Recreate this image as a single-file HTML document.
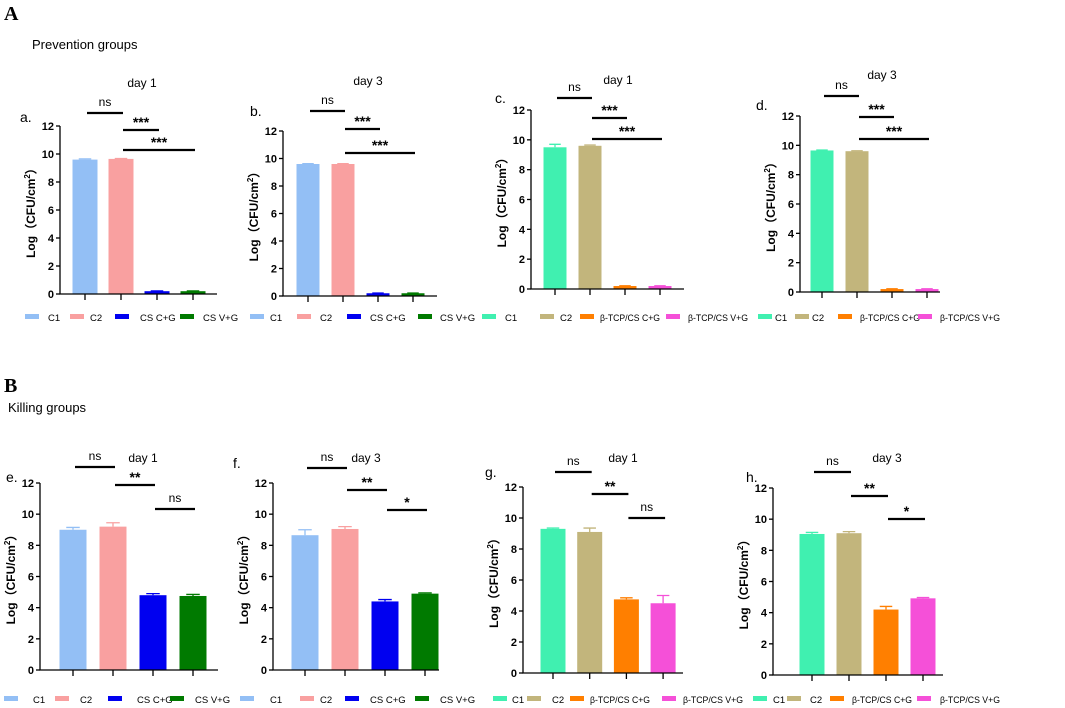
<!DOCTYPE html>
<html><head><meta charset="utf-8">
<style>
html,body{margin:0;padding:0;background:#fff;}
svg{display:block;font-family:"Liberation Sans",Arial,sans-serif;}
</style></head>
<body>
<svg id="fig" width="1065" height="708" viewBox="0 0 1065 708" xmlns="http://www.w3.org/2000/svg">
<text x="4" y="20" font-family="Liberation Serif,serif" font-weight="bold" font-size="20">A</text>
<text x="32" y="49" font-size="13">Prevention groups</text>
<text x="4" y="392" font-family="Liberation Serif,serif" font-weight="bold" font-size="20">B</text>
<text x="8" y="412" font-size="13">Killing groups</text>
</svg>
<script>
// ---- data ----
const categoriesCS = ["C1","C2","CS C+G","CS V+G"];
const categoriesTCP = ["C1","C2","β-TCP/CS C+G","β-TCP/CS V+G"];
const yTicks = [0,2,4,6,8,10,12];
const valuesA = [9.6,9.65,0.2,0.2];   const errorsA = [0.05,0.03,0.02,0.02];
const valuesB = [9.6,9.6,0.2,0.2];    const errorsB = [0.03,0.03,0.02,0.02];
const valuesC = [9.5,9.6,0.2,0.2];    const errorsC = [0.2,0.05,0.02,0.02];
const valuesD = [9.65,9.6,0.2,0.2];   const errorsD = [0.03,0.03,0.02,0.02];
const valuesE = [9.0,9.2,4.8,4.75];   const errorsE = [0.15,0.25,0.1,0.1];
const valuesF = [8.65,9.05,4.4,4.9];  const errorsF = [0.35,0.15,0.12,0.05];
const valuesG = [9.3,9.1,4.75,4.5];   const errorsG = [0.05,0.25,0.1,0.5];
const valuesH = [9.05,9.1,4.2,4.92];  const errorsH = [0.1,0.1,0.2,0.05];
const sigA = ["ns","***","***"], sigB = ["ns","***","***"], sigC = ["ns","***","***"], sigD = ["ns","***","***"];
const sigE = ["ns","**","ns"], sigF = ["ns","**","*"], sigG = ["ns","**","ns"], sigH = ["ns","**","*"];

const colorsCS = ["#93bff5","#f9a0a0","#0000f0","#007a00"];
const colorsTCP = ["#40f0b0","#c2b57c","#ff7f00","#f550d8"];

// ---- layout (geometry, not data) ----
const panels = [
 {id:"a",title:"day 1",tx:142,ty:87,lx:20,ly:122,ax:60,y12:126,y0:294,xe:217,t0:85,dt:36,bw:25,cats:categoriesCS,vals:valuesA,errs:errorsA,cols:colorsCS,sig:sigA,
  br:[[0,1,113],[1,2,130],[1,3,150]]},
 {id:"b",title:"day 3",tx:368,ty:85,lx:250,ly:116,ax:283,y12:131,y0:296,xe:437,t0:308,dt:35,bw:23,cats:categoriesCS,vals:valuesB,errs:errorsB,cols:colorsCS,sig:sigB,
  br:[[0,1,111],[1,2,129],[1,3,153]]},
 {id:"c",title:"day 1",tx:618,ty:84,lx:495,ly:103,ax:531,y12:110,y0:289,xe:684,t0:555,dt:35,bw:23,cats:categoriesTCP,vals:valuesC,errs:errorsC,cols:colorsTCP,sig:sigC,
  br:[[0,1,98],[1,2,118],[1,3,139]]},
 {id:"d",title:"day 3",tx:882,ty:79,lx:756,ly:110,ax:800,y12:116,y0:292,xe:940,t0:822,dt:35,bw:23,cats:categoriesTCP,vals:valuesD,errs:errorsD,cols:colorsTCP,sig:sigD,
  br:[[0,1,96],[1,2,117],[1,3,139]]},
 {id:"e",title:"day 1",tx:143,ty:462,lx:6,ly:482,ax:40,y12:483,y0:670,xe:218,t0:73,dt:40,bw:27,cats:categoriesCS,vals:valuesE,errs:errorsE,cols:colorsCS,sig:sigE,
  br:[[0,1,467],[1,2,485],[2,3,509]]},
 {id:"f",title:"day 3",tx:366,ty:462,lx:233,ly:468,ax:273,y12:483,y0:670,xe:439,t0:305,dt:40,bw:27,cats:categoriesCS,vals:valuesF,errs:errorsF,cols:colorsCS,sig:sigF,
  br:[[0,1,468],[1,2,490],[2,3,510]]},
 {id:"g",title:"day 1",tx:623,ty:462,lx:485,ly:477,ax:523,y12:487,y0:673,xe:683,t0:553,dt:36.7,bw:25,cats:categoriesTCP,vals:valuesG,errs:errorsG,cols:colorsTCP,sig:sigG,
  br:[[0,1,472],[1,2,494],[2,3,518]]},
 {id:"h",title:"day 3",tx:887,ty:462,lx:746,ly:482,ax:773,y12:488,y0:675,xe:943,t0:812,dt:37,bw:25,cats:categoriesTCP,vals:valuesH,errs:errorsH,cols:colorsTCP,sig:sigH,
  br:[[0,1,472],[1,2,496],[2,3,519]]}
];
const legendStarts = {
 A:{y:318,items:[[25,48],[70,90],[115,140],[180,203],[250,270],[297,320],[347,370],[418,440],[482,505],[540,560],[580,600],[666,688],[758,775],[795,812],[838,860],[918,940]]},
 B:{y:700,items:[[4,33],[55,80],[108,137],[170,195],[240,270],[300,320],[345,370],[415,440],[493,512],[527,552],[570,590],[662,683],[753,773],[787,810],[830,852],[917,940]]}
};

const NS="http://www.w3.org/2000/svg";
const svg=document.getElementById("fig");
function mk(tag,attrs,parent){const e=document.createElementNS(NS,tag);for(const k in attrs)e.setAttribute(k,attrs[k]);(parent||svg).appendChild(e);return e;}

panels.forEach(p=>{
  const g=mk("g",{});
  
  
  const ys=v=>p.y0-(v/12)*(p.y0-p.y12);
  const xs=i=>p.t0+i*p.dt;
  let t=mk("text",{x:p.tx,y:p.ty,"text-anchor":"middle","font-size":"12"},g);t.textContent=p.title;
  
  
  t=mk("text",{x:p.lx,y:p.ly,"font-size":"14"},g);t.textContent=p.id+".";
  
  
  const cy=(p.y0+p.y12)/2;
  t=mk("text",{x:0,y:0,"text-anchor":"middle","font-size":"12","font-weight":"bold",transform:`translate(${p.ax-25},${cy}) rotate(-90)`},g);
  t.innerHTML='Log（CFU/cm<tspan dy="-5" font-size="8">2</tspan><tspan dy="5">）</tspan>';
  
  
  p.vals.forEach((v,i)=>{
    const x=xs(i), top=ys(v);
    const r=mk("rect",{x:x-p.bw/2,y:top,width:p.bw,height:p.y0-top,fill:p.cols[i]},g);
    
    
    const et=ys(v+p.errs[i]);
    const e=mk("path",{d:`M${x} ${top}V${et}M${x-p.bw/4} ${et}H${x+p.bw/4}`,stroke:p.cols[i],"stroke-width":"1.3",fill:"none"},g);
    
    
  });
  const ax=mk("path",{d:`M${p.ax} ${p.y12}V${p.y0}H${p.xe}`,stroke:"#000","stroke-width":"1.3",fill:"none"},g);
  
  
  yTicks.forEach(v=>{
    const y=ys(v);
    mk("line",{x1:p.ax-4,x2:p.ax,y1:y,y2:y,stroke:"#000","stroke-width":"1.3"},g);
    const tl=mk("text",{x:p.ax-6,y:y+4,"text-anchor":"end","font-size":"11","font-weight":"bold"},g);
    tl.textContent=v;
    
    
  });
  p.cats.forEach((c,i)=>{mk("line",{x1:xs(i),x2:xs(i),y1:p.y0,y2:p.y0+6,stroke:"#000","stroke-width":"1.3"},g);});
  p.br.forEach((b,k)=>{
    const x1=xs(b[0])+2,x2=xs(b[1])+2;
    const l=mk("line",{x1:x1,x2:x2,y1:b[2],y2:b[2],stroke:"#000","stroke-width":"2.2"},g);
    
    
    const s=p.sig[k];
    const st=mk("text",{x:(x1+x2)/2,y:s==="ns"?b[2]-7:b[2]-3,"text-anchor":"middle","font-size":s==="ns"?"12":"14","font-weight":s==="ns"?"normal":"bold"},g);
    st.textContent=s;
    
    
  });
});

["A","B"].forEach(row=>{
  const L=legendStarts[row];
  L.items.forEach((it,j)=>{
    const grp=Math.floor(j/4), k=j%4;
    const isTCP=grp>=2;
    const col=(isTCP?colorsTCP:colorsCS)[k];
    const name=(isTCP?categoriesTCP:categoriesCS)[k];
    const sw=mk("rect",{x:it[0],y:L.y-4,width:14,height:5,fill:col});
    
    
    const attrs={x:it[1],y:L.y+3,"font-size":"9.5"};
    if(name.length>8){attrs.textLength="60";attrs.lengthAdjust="spacingAndGlyphs";}
    const tx=mk("text",attrs);
    tx.textContent=name;
    
    
  });
});
</script>
</body></html>
